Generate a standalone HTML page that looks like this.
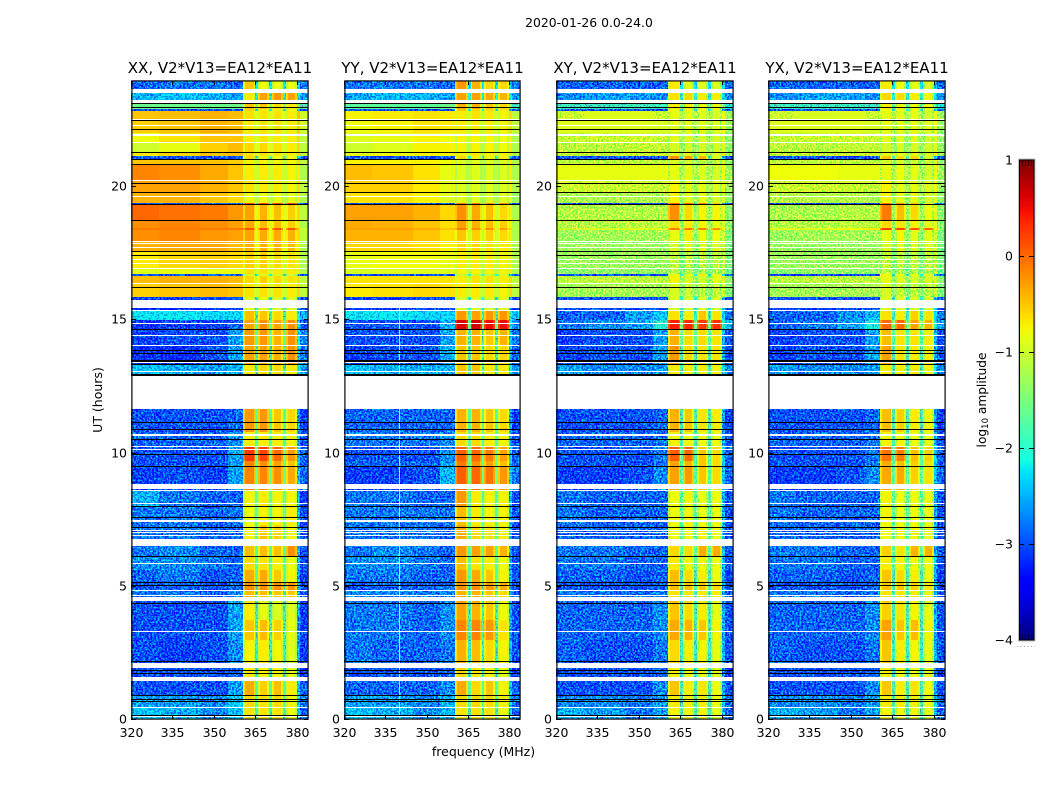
<!DOCTYPE html>
<html lang="en">
<head>
<meta charset="utf-8">
<title>2020-01-26 0.0-24.0</title>
<style>
html,body{margin:0;padding:0;background:#fff;width:1050px;height:800px;overflow:hidden}
svg{display:block}
text{font-family:"DejaVu Sans","Liberation Sans",sans-serif;fill:#000}
</style>
</head>
<body>
<svg id="fig" xmlns="http://www.w3.org/2000/svg" width="1050" height="800" viewBox="0 0 1050 800">
<defs>
<filter id="grain-low" filterUnits="objectBoundingBox" x="0" y="0" width="1" height="1" color-interpolation-filters="sRGB">
<feTurbulence type="fractalNoise" baseFrequency="0.55" numOctaves="2" seed="3"/>
<feColorMatrix values="0 0 0 0 .4  2.2 0 0 0 -.7  0 0 0 0 .4  0 0 0 0 1" result="n"/>
<feComposite in="SourceGraphic" in2="n" operator="arithmetic" k1="0" k2="1" k3="1" k4="-.4" result="m"/>
<feComposite in="m" in2="SourceAlpha" operator="in"/>
</filter>
<filter id="grain-mid" filterUnits="objectBoundingBox" x="0" y="0" width="1" height="1" color-interpolation-filters="sRGB">
<feTurbulence type="fractalNoise" baseFrequency="0.55" numOctaves="2" seed="8"/>
<feColorMatrix values="1.6 0 0 0 -.4  0 0 0 0 .4  0 0 0 0 .4  0 0 0 0 1" result="n"/>
<feComposite in="SourceGraphic" in2="n" operator="arithmetic" k1="0" k2="1" k3="1" k4="-.4" result="m"/>
<feComposite in="m" in2="SourceAlpha" operator="in"/>
</filter>
<linearGradient id="jet-gradient" x1="0" y1="1" x2="0" y2="0"></linearGradient>
</defs>
</svg>
<script>
const panelTitles = ['XX, V2*V13=EA12*EA11','YY, V2*V13=EA12*EA11','XY, V2*V13=EA12*EA11','YX, V2*V13=EA12*EA11'];
const freqTicks = [320,335,350,365,380];
const hourTicks = [0,5,10,15,20];
const colorTicks = [1,0,-1,-2,-3,-4];
const freqEdges = [320,330,345,355,360.5,361.2,364.3,365,366,366.7,369.3,370,371,371.7,374.3,375,376,376.7,379.3,380,381,384];
const columnValueIndex = [0,1,2,3,4,4,4,8,5,5,5,8,6,6,6,8,7,7,7,9,9];
const columnOffset = [0,0,0,0,-.3,0,-.3,0,-.3,0,-.3,0,-.3,0,-.3,0,-.3,0,-.3,.5,0];
const hourEdges = [23.94,23.56,23.15,22.89,22.81,22.48,21.99,21.65,21.28,21.11,21.01,20.83,20.23,19.78,19.36,19.29,18.69,18.42,18.35,17.94,17.52,16.92,16.70,16.62,16.32,15.83,15.42,15.35,14.97,14.60,14.03,13.32,11.63,10.77,10.21,9.68,9.46,8.56,7.99,7.28,6.49,6.08,5.59,5.14,4.84,4.43,3.71,2.96,1.93,1.44,.90,.45,0];
const gapStarts = [23.64,23.23,22.52,22.29,21.95,21.65,20.24,19.62,17.94,17.86,17.71,17.26,17.11,16.92,16.36,15.74,15.35,14.86,14.41,14.03,13.40,13.06,12.87,10.69,10.26,10.15,8.82,8.59,8.09,7.47,7.09,7.02,6.92,6.75,5.85,4.84,4.67,4.56,3.30,2.12,1.59,.45,.11];
const gapEnds = [23.49,23.13,22.48,22.25,21.88,21.61,20.19,19.59,17.90,17.82,17.67,17.22,17.07,16.89,16.32,15.42,15.31,14.82,14.37,14.00,13.34,13.02,11.63,10.62,10.23,10.11,8.63,8.54,8.05,7.39,7.05,6.98,6.89,6.49,5.82,4.80,4.63,4.43,3.26,1.93,1.44,.41,.08];
const flaggedHours = [23.10,22.96,22.46,22.12,21.26,20.98,20.81,20.09,19.76,19.29,18.71,17.54,17.39,16.19,14.60,13.83,13.70,13.45,13.41,13.32,12.93,12.89,11.13,10.86,10.47,9.91,9.47,7.97,7.56,7.19,6.10,5.12,5.01,4.33,2.14,1.82,1.71,.90,.73,.66,.13];
const yySpurFreq = [340];
/* each row: 320-330, 330-345, 345-355, 355-360.5, band1, band2, band3, band4, notch, 380-384 (log10 amplitude) */
const xxValues = [
[-2.9,-2.8,-2.8,-2.9,-.5,-.8,-.8,-.8,-2.2,-2.8],
[-2.5,-2.4,-2.5,-2.6,-.7,-.3,-.25,-.3,-2,-2.6],
[-1.6,-1.6,-1.6,-1.6,-.5,-.5,-.6,-.7,-1.4,-1.8],
[-3,-3,-3,-3,-.6,-.7,-.7,-.8,-2,-3],
[-.5,-.45,-.4,-.45,-.65,-.65,-.65,-.7,-.9,-1],
[-.55,-.5,-.4,-.45,-.7,-.65,-.65,-.7,-.9,-1],
[-.8,-.65,-.5,-.5,-.7,-.65,-.7,-.7,-.9,-1.1],
[-1,-.85,-.55,-.45,-.6,-.6,-.65,-.7,-.9,-1.1],
[-.7,-.6,-.5,-.5,-.65,-.65,-.65,-.7,-.9,-1.1],
[-3,-3,-3,-3,-.6,-.8,-.8,-.8,-1.8,-3],
[-.5,-.5,-.5,-.55,-.75,-.75,-.75,-.75,-1,-1.1],
[-.15,-.2,-.35,-.5,-.7,-.7,-.7,-.75,-1,-1.2],
[-.3,-.3,-.4,-.5,-.65,-.7,-.7,-.75,-1,-1.1],
[-.4,-.4,-.5,-.6,-.8,-.8,-.8,-.85,-1.1,-1.2],
[-3,-3,-2.9,-2.8,.2,.2,.2,.2,-1.8,-3],
[0,-.05,-.1,-.25,-.3,-.4,-.45,-.55,-.9,-1.1],
[-.2,-.15,-.2,-.3,-.35,-.45,-.45,-.55,-.9,-1.2],
[-.1,-.1,-.1,-.1,.1,.1,.1,.1,-.8,-1],
[-.2,-.15,-.25,-.3,-.3,-.35,-.35,-.4,-.9,-1.1],
[-.4,-.35,-.35,-.45,-.4,-.4,-.4,-.45,-.9,-1.2],
[-.7,-.6,-.55,-.6,-.55,-.55,-.6,-.65,-.95,-1.2],
[-.9,-.85,-.85,-.85,-.65,-.65,-.7,-.7,-1,-1.2],
[-3,-3,-3,-3,-.9,-.9,-.9,-1,-2,-3],
[-.45,-.4,-.4,-.45,-.6,-.55,-.6,-.65,-.95,-1.1],
[-.55,-.5,-.45,-.5,-.65,-.65,-.65,-.7,-1,-1.1],
[-3.1,-3.1,-3,-3,-.9,-.9,-.9,-.9,-2,-3.1],
[-3.2,-3.2,-3.1,-3.1,-.9,-.9,-.9,-.9,-2,-3.1],
[-2.2,-2.2,-2.3,-2.3,-.45,-.5,-.6,-.7,-1.8,-2.5],
[-3.2,-3.1,-3.1,-2.9,-.3,-.2,-.3,-.2,-1.7,-2.9],
[-3.1,-3,-3,-2.6,-.25,-.25,-.4,-.2,-1.7,-2.7],
[-3.2,-3.2,-3,-2.6,-.3,-.3,-.4,-.2,-1.8,-2.8],
[-2.4,-2.5,-2.6,-2.5,-.7,-.6,-.6,-.7,-1.8,-2.6],
[-3,-3,-3,-2.9,-.25,-.25,-.5,-.6,-1.7,-3.1],
[-2.9,-2.9,-2.9,-2.7,-.7,-.7,-.7,-.75,-1.7,-3],
[-3,-3,-3,-2.6,.25,.2,0,-.25,-1.6,-2.9],
[-3,-3,-3,-2.6,-.15,-.2,-.3,-.5,-1.6,-2.9],
[-3.1,-3,-3.1,-2.6,-.15,-.15,-.2,-.35,-1.6,-2.9],
[-2.5,-2.8,-2.9,-2.9,-.75,-.7,-.75,-.75,-1.6,-3.1],
[-2.8,-2.8,-2.9,-2.8,-.8,-.75,-.75,-.7,-1.6,-3],
[-2.8,-2.8,-2.9,-2.9,-.75,-.5,-.55,-.75,-1.7,-3],
[-2.8,-2.7,-2.9,-2.9,-.45,-.45,-.45,-.2,-1.7,-3],
[-2.7,-2.7,-2.8,-2.9,-.6,-.65,-.7,-.8,-1.7,-3],
[-2.9,-2.8,-3,-2.9,-.35,-.35,-.5,-.75,-1.7,-3.1],
[-3,-2.9,-3,-2.9,-.2,-.2,-.2,-.25,-1.8,-3],
[-2.8,-2.8,-2.9,-2.7,-.45,-.45,-.5,-.5,-1.8,-3],
[-3,-3,-3,-2.6,-.7,-.85,-.9,-.9,-1.8,-3.1],
[-3,-3,-3,-2.6,-.5,-.45,-.55,-.85,-1.8,-3.1],
[-3,-3.1,-3,-2.7,-.75,-.7,-.75,-.9,-1.9,-3.1],
[-3,-3,-3,-2.9,-.7,-.75,-.75,-.85,-2,-3.2],
[-3,-3,-3,-2.6,-.35,-.55,-.45,-.7,-1.7,-2.9],
[-2.6,-2.6,-2.7,-2.4,-.6,-.65,-.6,-.75,-1.7,-2.8],
[-2.4,-2.5,-2.7,-2.4,-.65,-.65,-.65,-.8,-1.8,-2.9]
];
const yyValues = [
[-2.8,-2.8,-2.8,-2.9,-.25,-.4,-.6,-.6,-2.2,-2.8],
[-2.6,-2.5,-2.5,-2.6,-.3,-.3,-.35,-.4,-2,-2.6],
[-1.7,-1.7,-1.7,-1.6,-.4,-.4,-.5,-.6,-1.4,-1.9],
[-3,-3,-3,-3,-.5,-.6,-.6,-.7,-2,-3],
[-.75,-.7,-.65,-.7,-.7,-.65,-.7,-.75,-1,-1.1],
[-.8,-.75,-.65,-.7,-.7,-.7,-.7,-.75,-1,-1.1],
[-.9,-.85,-.75,-.8,-.75,-.75,-.75,-.8,-1,-1.2],
[-1,-.9,-.75,-.75,-.75,-.75,-.75,-.8,-1.1,-1.2],
[-.85,-.8,-.75,-.75,-.7,-.7,-.75,-.8,-1,-1.2],
[-3,-3,-3,-3,-.6,-.75,-.75,-.75,-1.8,-3],
[-.75,-.75,-.75,-.8,-.9,-.9,-.9,-.9,-1.1,-1.2],
[-.45,-.5,-.65,-.85,-.9,-.9,-.9,-.9,-1.1,-1.2],
[-.55,-.55,-.7,-.85,-.9,-.9,-.9,-.9,-1.1,-1.2],
[-.65,-.65,-.75,-.9,-.9,-.9,-.9,-.9,-1.2,-1.3],
[-3,-3,-2.9,-2.8,-.1,-.1,-.2,-.2,-1.8,-3],
[-.3,-.3,-.4,-.6,-.2,-.35,-.45,-.6,-1,-1.2],
[-.35,-.4,-.5,-.65,-.3,-.4,-.45,-.55,-1,-1.2],
[-.3,-.3,-.35,-.5,-.1,-.2,-.2,-.3,-.9,-1.1],
[-.4,-.4,-.5,-.65,-.5,-.55,-.55,-.6,-1,-1.2],
[-.6,-.6,-.65,-.75,-.6,-.6,-.65,-.7,-1,-1.2],
[-.85,-.8,-.8,-.85,-.7,-.7,-.7,-.75,-1,-1.2],
[-.95,-.9,-.9,-.9,-.75,-.75,-.75,-.75,-1.1,-1.2],
[-3,-3,-3,-3,-1,-1,-1,-1,-2,-3],
[-.65,-.65,-.65,-.65,-.7,-.65,-.65,-.7,-1,-1.1],
[-.7,-.65,-.6,-.65,-.7,-.7,-.7,-.75,-1,-1.1],
[-3.1,-3.1,-3,-3,-.9,-.9,-.9,-.9,-2,-3.1],
[-3.1,-3.1,-3,-3,-.9,-.9,-.9,-.9,-2,-3.1],
[-2.2,-2.2,-2.3,-2.3,-.25,-.3,-.25,-.25,-1.8,-2.4],
[-3,-3,-3,-2.5,.6,.65,.5,.5,-1.6,-2.7],
[-3,-3,-3,-2.6,-.4,-.4,-.5,-.4,-1.8,-2.8],
[-3.1,-3,-3,-2.5,-.5,-.5,-.6,-.6,-1.8,-2.9],
[-2.4,-2.5,-2.5,-2.5,-.5,-.5,-.7,-.7,-1.8,-2.6],
[-2.9,-2.9,-2.9,-2.9,-.4,-.4,-.5,-.6,-1.7,-3.1],
[-2.8,-2.8,-2.8,-2.7,-.6,-.6,-.7,-.75,-1.7,-3],
[-3,-3,-3,-2.7,.05,0,-.1,-.3,-1.6,-2.9],
[-2.9,-2.9,-2.9,-2.6,-.1,-.2,-.3,-.45,-1.6,-2.9],
[-3.1,-3.1,-3,-2.5,.05,0,-.05,-.25,-1.5,-2.8],
[-2.8,-2.8,-2.9,-2.9,-.25,-.7,-.75,-.75,-1.7,-3],
[-2.8,-2.8,-2.8,-2.8,-.45,-.7,-.75,-.75,-1.7,-3],
[-2.8,-2.8,-2.8,-2.9,-.35,-.6,-.65,-.75,-1.7,-3],
[-2.8,-2.7,-2.8,-2.9,-.25,-.3,-.3,-.4,-1.7,-3],
[-2.7,-2.7,-2.8,-2.9,-.45,-.65,-.7,-.8,-1.7,-3],
[-2.8,-2.8,-2.9,-2.9,-.25,-.35,-.5,-.75,-1.7,-3],
[-3,-2.9,-2.9,-2.8,-.2,-.2,-.25,-.35,-1.8,-3],
[-2.7,-2.7,-2.8,-2.7,-.4,-.4,-.5,-.6,-1.8,-3],
[-2.8,-2.8,-2.9,-2.7,-.3,-.4,-.5,-.8,-1.8,-3],
[-2.8,-2.8,-2.9,-2.7,-.15,-.15,-.25,-.65,-1.8,-3],
[-2.8,-2.9,-2.9,-2.8,-.4,-.45,-.6,-.75,-1.9,-3],
[-3,-3,-3,-2.9,-.6,-.7,-.75,-.85,-2,-3.2],
[-2.9,-2.9,-2.9,-2.7,-.35,-.6,-.5,-.75,-1.7,-2.9],
[-2.6,-2.6,-2.7,-2.5,-.6,-.6,-.6,-.75,-1.7,-2.8],
[-2.4,-2.5,-2.7,-2.5,-.65,-.65,-.65,-.8,-1.8,-2.9]
];
const xyValues = [
[-2.9,-2.9,-2.9,-2.9,-.7,-.85,-.9,-.9,-2.2,-2.9],
[-2.7,-2.6,-2.6,-2.7,-.65,-.6,-.7,-.7,-2,-2.7],
[-1.9,-1.9,-1.9,-1.9,-.7,-.7,-.8,-.8,-1.6,-2.1],
[-3,-3,-3,-3,-.8,-.8,-.8,-.9,-2,-3],
[-1,-.9,-.9,-1,-.85,-.85,-.85,-.95,-1.2,-1.3],
[-.9,-.9,-.9,-.95,-.85,-.85,-.85,-.9,-1.2,-1.3],
[-1.05,-1,-1,-1.05,-.9,-.9,-.9,-.95,-1.3,-1.4],
[-1.1,-1.1,-1.05,-1.05,-.95,-.95,-.95,-.95,-1.3,-1.4],
[-1.05,-1.05,-1,-1,-.85,-.85,-.85,-.95,-1.2,-1.3],
[-3,-3,-3,-3,-.2,-.3,-.4,-.9,-1.8,-3],
[-1.1,-1.1,-1.1,-1.1,-.95,-.95,-1,-1,-1.3,-1.4],
[-.85,-.85,-.85,-.85,-.85,-.85,-.9,-.95,-1.2,-1.3],
[-1,-1,-1,-1.05,-.75,-.85,-.85,-.9,-1.2,-1.3],
[-1.2,-1.2,-1.2,-1.2,-.75,-.85,-.85,-.95,-1.3,-1.4],
[-3,-3,-3,-3,.1,0,-.1,-.5,-1.8,-3],
[-1.15,-1.15,-1.15,-1.15,-.2,-.6,-.75,-.75,-1.3,-1.4],
[-1.15,-1.15,-1.1,-1.1,-.65,-.7,-.75,-.85,-1.3,-1.4],
[-1,-.95,-.9,-.9,-.1,-.1,-.1,-.2,-1.2,-1.3],
[-1.3,-1.25,-1.25,-1.25,-.85,-.7,-.8,-.8,-1.4,-1.5],
[-1.3,-1.3,-1.3,-1.3,-.95,-.85,-.9,-.9,-1.4,-1.5],
[-1.3,-1.3,-1.3,-1.3,-1.05,-1.05,-1.05,-1.05,-1.5,-1.5],
[-1.4,-1.35,-1.35,-1.35,-1.15,-1.15,-1.15,-1.15,-1.5,-1.6],
[-3,-3,-3,-3,-.8,-.8,-.7,-.8,-2,-3],
[-1.1,-1.1,-1.1,-1.1,-.75,-.9,-.95,-.85,-1.3,-1.4],
[-1.25,-1.25,-1.25,-1.25,-.95,-1,-1.05,-1.05,-1.4,-1.5],
[-3,-3,-3,-3,-.9,-.9,-.9,-.9,-2,-3],
[-3,-3,-3,-3,-.9,-.9,-.9,-.9,-2,-3],
[-2.9,-2.9,-2.6,-2.4,-.65,-.7,-.5,-.65,-1.9,-2.8],
[-2.8,-2.7,-2.6,-2,.4,.35,.25,.3,-1.5,-2.5],
[-3.1,-3,-3,-2.6,-.4,-.6,-.6,-.65,-1.7,-3],
[-3.1,-3,-3,-2.6,-.25,-.6,-.65,-.65,-1.8,-3],
[-2.6,-2.7,-2.7,-2.6,-.7,-.7,-.7,-.75,-1.8,-2.7],
[-3,-3,-3,-2.9,-.4,-.5,-.65,-.7,-1.8,-3.1],
[-2.9,-2.9,-2.9,-2.8,-.75,-.75,-.8,-.8,-1.8,-3],
[-3,-3,-3,-2.8,.05,0,-.5,-.6,-1.7,-2.9],
[-3,-3,-3,-2.8,-.3,-.4,-.5,-.6,-1.7,-2.9],
[-3.1,-3.1,-3,-2.7,-.3,-.25,-.5,-.6,-1.7,-2.9],
[-2.8,-2.9,-2.9,-2.9,-.8,-.75,-.8,-.8,-1.7,-3],
[-2.8,-2.9,-2.9,-2.9,-.8,-.75,-.8,-.8,-1.7,-3],
[-2.9,-2.9,-2.9,-2.9,-.8,-.75,-.75,-.8,-1.7,-3],
[-2.8,-2.8,-2.9,-2.9,-.6,-.6,-.35,-.35,-1.7,-3],
[-2.8,-2.8,-2.9,-2.9,-.7,-.75,-.75,-.8,-1.7,-3],
[-2.9,-2.9,-3,-2.9,-.45,-.6,-.7,-.8,-1.8,-3.1],
[-3,-3,-3,-2.9,-.45,-.45,-.5,-.6,-1.8,-3],
[-2.8,-2.8,-2.9,-2.8,-.65,-.65,-.7,-.7,-1.8,-3],
[-2.9,-2.9,-2.9,-2.7,-.5,-.6,-.7,-.85,-1.8,-3],
[-2.9,-2.9,-2.9,-2.7,-.35,-.4,-.5,-.75,-1.8,-3],
[-2.9,-3,-3,-2.8,-.6,-.7,-.75,-.85,-1.9,-3],
[-3,-3,-3,-2.9,-.75,-.8,-.8,-.85,-2,-3.2],
[-3,-3,-3,-2.7,-.5,-.7,-.65,-.8,-1.8,-3],
[-2.7,-2.7,-2.8,-2.6,-.7,-.7,-.7,-.8,-1.8,-2.9],
[-2.5,-2.6,-2.8,-2.6,-.75,-.75,-.75,-.85,-1.8,-2.9]
];
const yxValues = [
[-2.9,-2.9,-2.9,-2.9,-.7,-.8,-.85,-.9,-2.2,-2.9],
[-2.7,-2.6,-2.6,-2.7,-.6,-.6,-.7,-.75,-2,-2.7],
[-1.9,-1.9,-1.9,-1.9,-.7,-.75,-.8,-.8,-1.6,-2.1],
[-3,-3,-3,-3,-.8,-.8,-.8,-.9,-2,-3],
[-1,-.95,-.9,-1,-.85,-.85,-.85,-.95,-1.2,-1.3],
[-.9,-.9,-.9,-.95,-.85,-.85,-.85,-.9,-1.2,-1.3],
[-1.05,-1,-1,-1.05,-.9,-.9,-.9,-.95,-1.3,-1.4],
[-1.1,-1.1,-1.05,-1.05,-.95,-.95,-.95,-.95,-1.3,-1.4],
[-1.05,-1.05,-1,-1,-.85,-.85,-.85,-.95,-1.2,-1.3],
[-3,-3,-3,-3,-.5,-.6,-.6,-.9,-1.8,-3],
[-1.1,-1.1,-1.1,-1.1,-.95,-.95,-1,-1,-1.3,-1.4],
[-.8,-.8,-.85,-.85,-.85,-.8,-.85,-.95,-1.2,-1.3],
[-1,-1,-1,-1.05,-.75,-.85,-.85,-.9,-1.2,-1.3],
[-1.15,-1.15,-1.15,-1.2,-.75,-.85,-.85,-.95,-1.3,-1.4],
[-3,-3,-3,-3,-.1,-.2,-.4,-.7,-1.8,-3],
[-1.2,-1.2,-1.15,-1.15,-.1,-.45,-.6,-.8,-1.3,-1.4],
[-1.15,-1.15,-1.1,-1.1,-.6,-.65,-.75,-.85,-1.3,-1.4],
[-.9,-.9,-.8,-.7,.2,.2,.15,0,-1.2,-1.3],
[-1.3,-1.25,-1.25,-1.25,-.85,-.75,-.85,-.85,-1.4,-1.5],
[-1.3,-1.3,-1.3,-1.3,-.95,-.85,-.9,-.9,-1.4,-1.5],
[-1.3,-1.3,-1.3,-1.3,-1.05,-1.05,-1.05,-1.05,-1.5,-1.5],
[-1.4,-1.35,-1.35,-1.35,-1.1,-1.15,-1.15,-1.15,-1.5,-1.6],
[-3,-3,-3,-3,-.8,-.8,-.8,-.8,-2,-3],
[-1.1,-1.1,-1.1,-1.1,-.85,-.9,-.95,-.9,-1.3,-1.4],
[-1.25,-1.25,-1.25,-1.25,-.95,-1,-1.05,-1.05,-1.4,-1.5],
[-3,-3,-3,-3,-.9,-.9,-.9,-.9,-2,-3],
[-3.1,-3.1,-3,-3,-.9,-.9,-.9,-.9,-2,-3],
[-2.9,-2.9,-2.7,-2.5,-.65,-.7,-.55,-.65,-1.9,-2.8],
[-2.9,-2.8,-2.6,-2.1,0,0,-.3,-.4,-1.5,-2.6],
[-3.1,-3,-3,-2.6,-.45,-.65,-.65,-.7,-1.7,-3],
[-3.1,-3,-3,-2.6,-.3,-.65,-.7,-.7,-1.8,-3],
[-2.6,-2.7,-2.7,-2.6,-.7,-.7,-.7,-.75,-1.8,-2.7],
[-3,-3,-3,-2.9,-.45,-.55,-.7,-.75,-1.8,-3.1],
[-2.9,-2.9,-2.9,-2.8,-.75,-.75,-.8,-.8,-1.8,-3],
[-3,-3,-3,-2.8,-.05,-.1,-.45,-.55,-1.7,-2.9],
[-3,-3,-3,-2.8,-.35,-.45,-.55,-.65,-1.7,-2.9],
[-3.1,-3.1,-3,-2.7,-.35,-.35,-.55,-.65,-1.7,-2.9],
[-2.8,-2.9,-2.9,-2.9,-.75,-.8,-.8,-.8,-1.7,-3],
[-2.8,-2.9,-2.9,-2.9,-.75,-.8,-.8,-.8,-1.7,-3],
[-2.9,-2.9,-2.9,-2.9,-.8,-.75,-.75,-.8,-1.7,-3],
[-2.8,-2.8,-2.9,-2.9,-.55,-.65,-.4,-.4,-1.7,-3],
[-2.8,-2.8,-2.9,-2.9,-.7,-.75,-.75,-.8,-1.7,-3],
[-2.9,-2.9,-3,-2.9,-.5,-.6,-.7,-.8,-1.8,-3.1],
[-3,-3,-3,-2.9,-.5,-.5,-.55,-.65,-1.8,-3],
[-2.8,-2.8,-2.9,-2.8,-.65,-.65,-.7,-.75,-1.8,-3],
[-2.9,-2.9,-2.9,-2.7,-.55,-.65,-.75,-.85,-1.8,-3],
[-2.9,-2.9,-2.9,-2.7,-.3,-.5,-.45,-.75,-1.8,-3],
[-2.9,-3,-3,-2.8,-.5,-.7,-.75,-.85,-1.9,-3],
[-3,-3,-3,-2.9,-.75,-.8,-.8,-.85,-2,-3.2],
[-3,-3,-3,-2.7,-.5,-.7,-.65,-.8,-1.8,-3],
[-2.7,-2.7,-2.8,-2.6,-.7,-.7,-.7,-.8,-1.8,-2.9],
[-2.5,-2.6,-2.8,-2.6,-.75,-.75,-.75,-.85,-1.8,-2.9]
];
const panelValues = [xxValues,yyValues,xyValues,yxValues];
const panelLeft = [131,344,556,768];
const panelRight = [308,520,733,945];

const SVGNS = 'http://www.w3.org/2000/svg';
const svg = document.getElementById('fig');
const PLOT_TOP = 81, PLOT_BOTTOM = 719, HOUR_MAX = 23.94;
const FREQ_MIN = 320, FREQ_MAX = 384;
const COLOR_MIN = -4, COLOR_MAX = 1;
const CB_LEFT = 1019, CB_RIGHT = 1034, CB_TOP = 160, CB_BOTTOM = 640;

function yScale(h){return PLOT_BOTTOM - (h / HOUR_MAX) * (PLOT_BOTTOM - PLOT_TOP);}
function xScale(f, p){return panelLeft[p] + (f - FREQ_MIN) / (FREQ_MAX - FREQ_MIN) * (panelRight[p] - panelLeft[p]);}
function cbScale(v){return CB_BOTTOM - (v - COLOR_MIN) / (COLOR_MAX - COLOR_MIN) * (CB_BOTTOM - CB_TOP);}
function piece(t, pts){
  for(let i = 1; i < pts.length; i++){
    if(t <= pts[i][0]){
      const a = pts[i-1], b = pts[i];
      return a[1] + (b[1]-a[1]) * (t-a[0]) / (b[0]-a[0]);
    }
  }
  return pts[pts.length-1][1];
}
function jet(t){
  t = Math.max(0, Math.min(1, t));
  const r = piece(t, [[0,0],[.35,0],[.66,1],[.89,1],[1,.5]]);
  const g = piece(t, [[0,0],[.125,0],[.375,1],[.64,1],[.91,0],[1,0]]);
  const b = piece(t, [[0,.5],[.11,1],[.34,1],[.65,0],[1,0]]);
  return 'rgb(' + Math.round(r*255) + ',' + Math.round(g*255) + ',' + Math.round(b*255) + ')';
}
function colorOf(v){return jet((v - COLOR_MIN) / (COLOR_MAX - COLOR_MIN));}
function make(tag, attrs, parent){
  const e = document.createElementNS(SVGNS, tag);
  for(const k in attrs){e.setAttribute(k, attrs[k]);}
  (parent || svg).appendChild(e);
  return e;
}
function minus(v){return String(v).replace('-', '\u2212');}

const suptitle = make('text', {x:589, y:27, 'text-anchor':'middle', 'font-size':'12.4px'});
suptitle.textContent = '2020-01-26 0.0-24.0';



panelTitles.forEach(function(title, p){
  const L = panelLeft[p], R = panelRight[p];
  const group = make('g', {});
  
  

  const lowGroup = make('g', {filter:'url(#grain-low)'}, group);
  
  
  const midGroup = make('g', p >= 2 ? {filter:'url(#grain-mid)'} : {}, group);
  
  
  const highGroup = make('g', {}, group);
  
  

  panelValues[p].forEach(function(row, r){
    const y0 = Math.round(yScale(hourEdges[r]));
    const y1 = Math.round(yScale(hourEdges[r+1]));
    columnValueIndex.forEach(function(vi, c){
      const x0 = Math.round(xScale(freqEdges[c], p));
      const x1 = Math.round(xScale(freqEdges[c+1], p));
      const v = row[vi] + columnOffset[c];
      const target = v < -1.7 ? lowGroup : (v < -.95 ? midGroup : highGroup);
      const cell = make('rect', {x:x0, y:y0, width:x1-x0, height:y1-y0, fill:colorOf(v)}, target);
      
      
    });
  });

  if(p === 1){
    yySpurFreq.forEach(function(f){
      const spur = make('rect', {x:Math.round(xScale(f,p)), y:Math.round(yScale(15.42)), width:1, height:PLOT_BOTTOM-Math.round(yScale(15.42)), fill:colorOf(-1.2)}, group);
      
      
    });
  }

  gapStarts.forEach(function(h, i){
    const y0 = Math.round(yScale(h)), y1 = Math.round(yScale(gapEnds[i]));
    const gap = make('rect', {x:L, y:y0, width:R-L, height:Math.max(1,y1-y0), fill:'#fff'}, group);
    
    
  });
  flaggedHours.forEach(function(h){
    const flag = make('rect', {x:L, y:Math.floor(yScale(h)), width:R-L, height:1, fill:'#000'}, group);
    
    
  });

  const frameOuter = make('rect', {x:L+.5, y:PLOT_TOP-.5, width:R-L, height:PLOT_BOTTOM-PLOT_TOP+1, fill:'none', stroke:'#000', 'stroke-width':1, 'stroke-opacity':.35}, group);
  
  
  const frame = make('rect', {x:L+1, y:PLOT_TOP, width:R-L-1, height:PLOT_BOTTOM-PLOT_TOP, fill:'none', stroke:'#000', 'stroke-width':1}, group);
  
  

  freqTicks.forEach(function(f){
    const x = Math.round(xScale(f,p)) + .5;
    const bt = make('line', {x1:x, x2:x, y1:PLOT_BOTTOM, y2:PLOT_BOTTOM-4, stroke:'#000'}, group);
    
    
    const tt = make('line', {x1:x, x2:x, y1:PLOT_TOP, y2:PLOT_TOP+4, stroke:'#000'}, group);
    
    
    const lab = make('text', {x:x, y:737, 'text-anchor':'middle', 'font-size':'12.5px'}, group);
    lab.textContent = String(f);
    
    
  });
  hourTicks.forEach(function(h){
    const y = Math.round(yScale(h)) + .5;
    const lt = make('line', {x1:L, x2:L+5, y1:y, y2:y, stroke:'#000'}, group);
    
    
    const rt = make('line', {x1:R, x2:R-4, y1:y, y2:y, stroke:'#000'}, group);
    
    
    const lab = make('text', {x:L-4, y:y+4, 'text-anchor':'end', 'font-size':'12.5px'}, group);
    lab.textContent = String(h);
    
    
  });

  const t = make('text', {x:(L+R)/2 + .5, y:73, 'text-anchor':'middle', 'font-size':'15px'}, group);
  t.textContent = title;
  
  
});

const xTitle = make('text', {x:483.5, y:756, 'text-anchor':'middle', 'font-size':'12.5px'});
xTitle.textContent = 'frequency (MHz)';



const yTitle = make('text', {'text-anchor':'middle', 'font-size':'12.5px', transform:'translate(102,400) rotate(-90)'});
yTitle.textContent = 'UT (hours)';



/* colorbar */
const gradient = document.getElementById('jet-gradient');
for(let i = 0; i <= 40; i++){
  const s = document.createElementNS(SVGNS, 'stop');
  s.setAttribute('offset', String(i/40));
  s.setAttribute('stop-color', jet(i/40));
  gradient.appendChild(s);
}
const cbBar = make('rect', {x:CB_LEFT, y:CB_TOP, width:CB_RIGHT-CB_LEFT, height:CB_BOTTOM-CB_TOP, fill:'url(#jet-gradient)'});


const cbFrame = make('rect', {x:CB_LEFT+.5, y:CB_TOP, width:CB_RIGHT-CB_LEFT-.5, height:CB_BOTTOM-CB_TOP, fill:'none', stroke:'#000', 'stroke-width':1});


const cbShadow = make('rect', {x:CB_LEFT-.5, y:CB_TOP-1, width:CB_RIGHT-CB_LEFT+1.5, height:CB_BOTTOM-CB_TOP+2, fill:'none', stroke:'#000', 'stroke-opacity':.25, 'stroke-width':1});


colorTicks.forEach(function(v){
  const y = Math.round(cbScale(v)) + .5;
  if(v !== 1 && v !== -4){
    const a = make('line', {x1:CB_LEFT, x2:CB_LEFT+5, y1:y, y2:y, stroke:'#000'});
    
    
    const b = make('line', {x1:CB_RIGHT, x2:CB_RIGHT-5, y1:y, y2:y, stroke:'#000'});
    
    
  }
  const lab = make('text', {x:1013, y:y+4, 'text-anchor':'end', 'font-size':'12.5px'});
  lab.textContent = minus(v);
  
  
});
[1022,1025,1028,1031].forEach(function(x){
  const top = make('line', {x1:x+.5, x2:x+.5, y1:CB_TOP, y2:CB_TOP+6, stroke:'#000', 'stroke-opacity':.6});
  
  
  const bot = make('line', {x1:x+.5, x2:x+.5, y1:CB_BOTTOM-6, y2:CB_BOTTOM, stroke:'#000', 'stroke-opacity':.6});
  
  
});
const dots = make('line', {x1:1017, x2:1035, y1:646.5, y2:646.5, stroke:'#999', 'stroke-dasharray':'1 2.5'});



const cbLabel = make('text', {'text-anchor':'middle', 'font-size':'12.2px', transform:'translate(986,400) rotate(-90)'});


const part1 = make('tspan', {}, cbLabel);
part1.textContent = 'log';
const part2 = make('tspan', {'font-size':'8.5px', dy:'2'}, cbLabel);
part2.textContent = '10';
const part3 = make('tspan', {dy:'-2'}, cbLabel);
part3.textContent = ' amplitude';
</script>
</body>
</html>
